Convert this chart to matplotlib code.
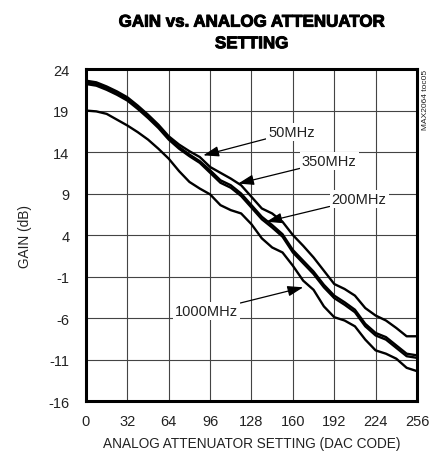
import matplotlib.pyplot as plt
import matplotlib.patheffects as pe

plt.rcParams["axes.unicode_minus"] = False

# Data (DAC code vs gain in dB)
dac_code = [0, 8, 16, 24, 32, 40, 48, 56, 64, 72, 80, 88, 96, 104, 112, 120, 128,
            136, 144, 152, 160, 168, 176, 184, 192, 200, 208, 216, 224, 232, 240, 248, 256]

gain_50 = [22.6, 22.4, 21.9, 21.3, 20.6, 19.6, 18.5, 17.3, 15.9, 14.9, 14.1, 13.4, 12.2,
           11.5, 10.8, 10.0, 8.6, 7.2, 6.6, 5.6, 4.0, 2.7, 1.3, -0.3, -1.9, -2.5, -3.3,
           -4.8, -5.7, -6.3, -7.2, -8.2, -8.2]
gain_350 = [22.4, 22.2, 21.7, 21.1, 20.4, 19.4, 18.3, 17.1, 15.7, 14.6, 13.7, 12.9, 11.8,
            10.6, 10.0, 9.0, 7.6, 6.2, 5.2, 4.1, 2.2, 0.9, -0.4, -2.0, -3.3, -4.1, -5.0,
            -6.7, -7.8, -8.3, -9.3, -10.3, -10.5]
gain_200 = [22.2, 22.0, 21.5, 20.9, 20.2, 19.2, 18.1, 16.9, 15.5, 14.4, 13.5, 12.7, 11.5,
            10.3, 9.7, 8.7, 7.3, 5.9, 4.9, 3.8, 1.9, 0.6, -0.7, -2.3, -3.6, -4.4, -5.3,
            -7.0, -8.1, -8.6, -9.6, -10.6, -10.8]
gain_1000 = [19.0, 18.9, 18.6, 17.9, 17.2, 16.4, 15.5, 14.4, 13.2, 11.7, 10.4, 9.6, 8.9,
             7.6, 7.0, 6.6, 5.3, 3.6, 2.5, 1.9, 0.3, -1.5, -2.6, -4.6, -5.9, -6.3, -7.0,
             -8.6, -9.9, -10.3, -10.9, -12.0, -12.4]

x_ticks = [0, 32, 64, 96, 128, 160, 192, 224, 256]
y_ticks = [-16, -11, -6, -1, 4, 9, 14, 19, 24]

FONT = ["Liberation Sans", "DejaVu Sans"]
TXT = "#222222"

fig = plt.figure(figsize=(4.31, 4.64), dpi=100)
ax = fig.add_axes([0.1995, 0.1336, 0.768, 0.7154])

for ys in (gain_50, gain_350, gain_200, gain_1000):
    ax.plot(dac_code, ys, color="black", linewidth=1.7, zorder=3,
            solid_joinstyle="round", solid_capstyle="butt")

ax.set_xlim(0, 256)
ax.set_ylim(-16, 24)
ax.set_xticks(x_ticks)
ax.set_yticks(y_ticks)
ax.tick_params(length=0, labelsize=10.5, colors=TXT)
ax.tick_params(axis="x", pad=9)
ax.tick_params(axis="y", pad=12)
for lab in ax.get_xticklabels() + ax.get_yticklabels():
    lab.set_family(FONT)
ax.grid(True, color="#444444", linewidth=0.8, zorder=1)
for sp in ax.spines.values():
    sp.set_linewidth(2.2)
    sp.set_zorder(4)

ax.set_xlabel("ANALOG ATTENUATOR SETTING (DAC CODE)", fontsize=9.8,
              family=FONT, labelpad=6, color=TXT)
ax.set_ylabel("GAIN (dB)", fontsize=9.8, family=FONT, labelpad=12, color=TXT)
title = ax.set_title("GAIN vs. ANALOG ATTENUATOR\nSETTING", fontsize=12.2,
                     fontweight="bold", family=FONT, linespacing=1.55, pad=15)
title.set_path_effects([pe.withStroke(linewidth=0.7, foreground="black")])

ax.text(1.015, 1.0, "MAX2064 toc05", transform=ax.transAxes, rotation=90,
        ha="left", va="top", fontsize=6, family=FONT, color=TXT)

box = dict(facecolor="white", edgecolor="none", pad=1.5)
arrow = dict(arrowstyle="-|>,head_length=0.9,head_width=0.3", color="black",
             linewidth=0.9, shrinkA=0, shrinkB=0)
labels = [
    ("50MHz", (90.7, 13.6), (141, 16.4)),
    ("350MHz", (117.7, 10.2), (167, 12.9)),
    ("200MHz", (139.5, 5.6), (190, 8.3)),
    ("1000MHz", (168.0, -2.3), (69, -5.2)),
]
for txt, tip, pos in labels:
    ax.annotate(txt, xy=tip, xytext=pos, fontsize=10.5, family=FONT, color=TXT,
                ha="left", va="center", bbox=box, arrowprops=arrow, zorder=5)

fig.savefig("out.png", dpi=100)
